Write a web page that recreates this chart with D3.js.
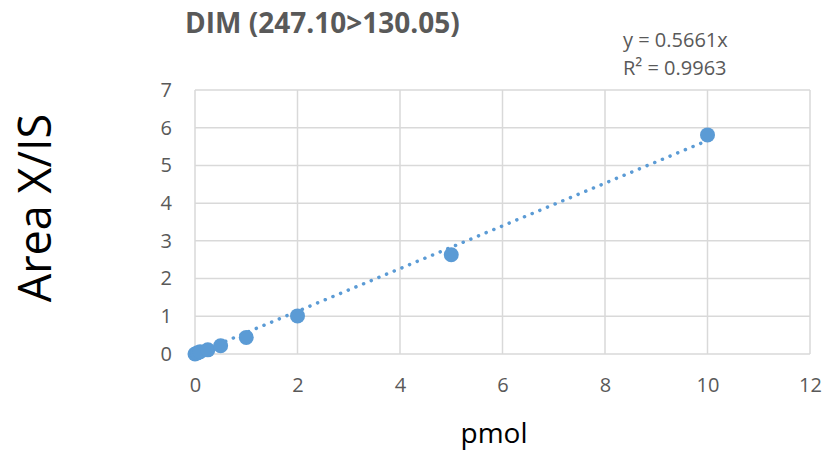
<!DOCTYPE html>
<html>
  <head>
    <script src="https://cdnjs.cloudflare.com/ajax/libs/d3/7.8.5/d3.min.js"></script>
    <style>
      body { margin: 0; background: #fff; }
      svg { font-family: "Open Sans", "Noto Sans", sans-serif; }
      .grid line { stroke: #d9d9d9; stroke-width: 1.5; }
      .tick text { fill: #595959; font-size: 20px; font-family: "Open Sans", "Noto Sans", sans-serif; }
      .point { fill: #5b9bd5; }
      .trend { stroke: #5b9bd5; stroke-width: 3.5; stroke-dasharray: 0.1 8.2; stroke-linecap: round; fill: none; }
    </style>
  </head>
  <body>
    <svg width="825" height="455"></svg>
    <script>
      // calibration points
      var pmol = [0, 0.05, 0.1, 0.25, 0.5, 1, 2, 5, 10];
      var ratio = [0, 0.03, 0.06, 0.11, 0.22, 0.44, 1.01, 2.63, 5.81];
      var slope = 0.5661;
      var xTicks = [0, 2, 4, 6, 8, 10, 12];
      var yTicks = [0, 1, 2, 3, 4, 5, 6, 7];

      var svg = d3.select("svg");
      var x = d3.scaleLinear().domain([0, 12]).range([195, 810]);
      var y = d3.scaleLinear().domain([0, 7]).range([354, 90]);

      var grid = svg.append("g").attr("class", "grid");
      grid.selectAll("line.h").data(yTicks).enter().append("line")
        .attr("x1", x(0)).attr("x2", x(12))
        .attr("y1", d => y(d)).attr("y2", d => y(d));
      grid.selectAll("line.v").data(xTicks).enter().append("line")
        .attr("y1", y(0)).attr("y2", y(7))
        .attr("x1", d => x(d)).attr("x2", d => x(d));

      var xAxis = svg.append("g").attr("transform", "translate(0," + y(0) + ")")
        .call(d3.axisBottom(x).tickValues(xTicks).tickFormat(d3.format("d")).tickSize(0).tickPadding(24));
      xAxis.select(".domain").remove();

      var yAxis = svg.append("g").attr("transform", "translate(" + x(0) + ",0)")
        .call(d3.axisLeft(y).tickValues(yTicks).tickFormat(d3.format("d")).tickSize(0).tickPadding(23));
      yAxis.select(".domain").remove();

      // linear trendline through origin
      svg.append("line").attr("class", "trend")
        .attr("x1", x(0)).attr("y1", y(0))
        .attr("x2", x(10)).attr("y2", y(slope * 10));

      svg.selectAll("circle.point").data(pmol).enter().append("circle")
        .attr("class", "point")
        .attr("cx", d => x(d))
        .attr("cy", (d, i) => y(ratio[i]))
        .attr("r", 7.5);

      svg.append("text").attr("x", 185).attr("y", 33)
        .attr("font-size", 28).attr("font-weight", "bold").attr("fill", "#595959")
        .text("DIM (247.10>130.05)");

      svg.append("text").attr("x", 623).attr("y", 47)
        .attr("font-size", 20).attr("fill", "#595959").text("y = 0.5661x");
      svg.append("text").attr("x", 623).attr("y", 75)
        .attr("font-size", 20).attr("fill", "#595959").text("R² = 0.9963");

      svg.append("text").attr("transform", "translate(51,208) rotate(-90)")
        .attr("text-anchor", "middle").attr("font-size", 45).attr("fill", "#000")
        .text("Area X/IS");

      svg.append("text").attr("x", 494).attr("y", 443)
        .attr("text-anchor", "middle").attr("font-size", 28).attr("fill", "#000")
        .text("pmol");
    </script>
  </body>
</html>
